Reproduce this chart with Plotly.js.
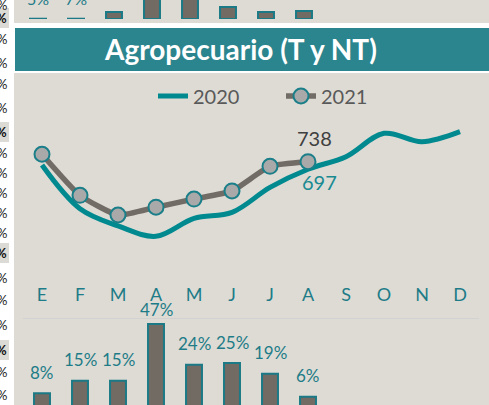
<!DOCTYPE html>
<html><head><meta charset="utf-8">
<script src="https://cdn.plot.ly/plotly-3.0.1.min.js"></script>
<style>html,body{margin:0;padding:0;background:#fff;overflow:hidden}#chart{width:489px;height:405px}</style>
</head><body><div id="chart"></div>
<script>
// ---- data ----
const months = ['E','F','M','A','M','J','J','A','S','O','N','D'];
const val2020 = [720, 484, 391, 335, 432, 464, 599, 697, 765, 891, 846, 900];
const val2021 = [778, 556, 450, 492, 536, 580, 713, 738];
const growth = [8, 15, 15, 47, 24, 25, 19, 6];
const growthLabels = ['8%','15%','15%','47%','24%','25%','19%','6%'];
const topBars = [0.2, 0.2, 5.2, 30, 30, 8.8, 5.2, 5.9];
const topLabels = ['5%','7%'];
const titleText = 'Agropecuario (T y NT)';
const last2020Label = '697';
const last2021Label = '738';

// ---- helpers (layout positions in pixels -> paper) ----
const W = 489, H = 405;
const px = x => x / W;
const py = y => 1 - y / H;
const idx = months.map((m, i) => i);
const idx21 = val2021.map((v, i) => i);
const idxG = growth.map((v, i) => i);
const idxT = topBars.map((v, i) => i);

const TEAL = '#008a90';
const TEAL_TXT = '#1d7c87';
const GRAYLINE = '#716c65';
const PANEL = '#dedbd5';
const FONT = 'Lato, "Open Sans", sans-serif';

const traces = [
  { x: idx, y: val2020, name: '2020', type: 'scatter', mode: 'lines',
    xaxis: 'x', yaxis: 'y',
    line: { color: TEAL, width: 5, shape: 'spline', smoothing: 1 } },
  { x: idx21, y: val2021, name: '2021', type: 'scatter', mode: 'lines+markers',
    xaxis: 'x', yaxis: 'y',
    line: { color: GRAYLINE, width: 5.5, shape: 'spline', smoothing: 0.5 },
    marker: { size: 15, color: '#a9a9a9', line: { color: '#1b7f89', width: 2 } } },
  { x: idxG, y: growth, type: 'bar', xaxis: 'x2', yaxis: 'y2', showlegend: false,
    width: 0.42, marker: { color: '#716b64', line: { color: '#1b7a85', width: 2 } },
    hoverinfo: 'skip' },
  { x: idxT, y: topBars, type: 'bar', xaxis: 'x3', yaxis: 'y3', showlegend: false,
    width: 0.42, marker: { color: '#716b64', line: { color: '#1b7a85', width: 2 } },
    hoverinfo: 'skip' }
];

const annotations = [];
annotations.push({ xref: 'paper', yref: 'paper', x: px(240), y: py(49), text: '<b>' + titleText + '</b>',
  showarrow: false, xanchor: 'center', yanchor: 'middle', font: { family: FONT, size: 28, color: '#ffffff' } });
annotations.push({ xref: 'x', yref: 'y', x: idx21[idx21.length - 1], y: val2021[val2021.length - 1],
  text: last2021Label, showarrow: false, xshift: 6, yshift: 24, font: { family: FONT, size: 20, color: '#404040' } });
annotations.push({ xref: 'x', yref: 'y', x: 7, y: val2020[7],
  text: last2020Label, showarrow: false, xshift: 11, yshift: -13, font: { family: FONT, size: 20, color: '#1a8a91' } });
growth.forEach((g, i) => {
  annotations.push({ xref: 'x2', yref: 'y2', x: i, y: g, text: growthLabels[i], showarrow: false,
    yanchor: 'middle', yshift: g > 40 ? 15 : 21, font: { family: FONT, size: 17, color: TEAL_TXT } });
});
topLabels.forEach((t, i) => {
  annotations.push({ xref: 'x3', yref: 'paper', x: i, y: py(-2), text: t, showarrow: false,
    yanchor: 'middle', font: { family: FONT, size: 16, color: TEAL_TXT } });
});
// cut-off labels of a neighbouring table at the left edge
const leftPlain = [5, 39, 63, 84, 108, 153, 173, 193, 213, 233, 278, 300, 325, 372, 395];
const leftBold = [18, 132, 253, 350];
const shapes = [
  { type: 'rect', xref: 'paper', yref: 'paper', x0: px(14), x1: 1, y0: py(23), y1: 1, fillcolor: PANEL, line: { width: 0 }, layer: 'below' },
  { type: 'rect', xref: 'paper', yref: 'paper', x0: px(15), x1: 1, y0: py(71), y1: py(28), fillcolor: '#2b858e', line: { width: 0 }, layer: 'below' },
  { type: 'rect', xref: 'paper', yref: 'paper', x0: px(14), x1: 1, y0: 0, y1: py(73), fillcolor: PANEL, line: { width: 0 }, layer: 'below' }
];
leftBold.forEach(y => {
  shapes.push({ type: 'rect', xref: 'paper', yref: 'paper', x0: 0, x1: px(9), y0: py(y + 10), y1: py(y - 10),
    fillcolor: '#dcdad5', line: { width: 0 }, layer: 'below' });
  annotations.push({ xref: 'paper', yref: 'paper', x: px(1.5), y: py(y), text: '<b>%</b>', showarrow: false,
    xanchor: 'center', yanchor: 'middle', font: { family: FONT, size: 13, color: '#111' } });
});
leftPlain.forEach(y => {
  annotations.push({ xref: 'paper', yref: 'paper', x: px(1.5), y: py(y), text: '%', showarrow: false,
    xanchor: 'center', yanchor: 'middle', font: { family: FONT, size: 13, color: '#222' } });
});

const layout = {
  width: W, height: H,
  margin: { l: 0, r: 0, t: 0, b: 0, pad: 0, autoexpand: false },
  paper_bgcolor: '#ffffff', plot_bgcolor: 'rgba(0,0,0,0)',
  font: { family: FONT },
  showlegend: true,
  legend: { orientation: 'h', x: px(153), xanchor: 'left', y: py(96), yanchor: 'middle',
    font: { family: FONT, size: 20, color: '#595959' }, bgcolor: 'rgba(0,0,0,0)',
    entrywidth: 83, entrywidthmode: 'pixels' },
  xaxis: { domain: [px(23), px(479)], range: [-0.5, 11.5], anchor: 'y',
    tickmode: 'array', tickvals: idx, ticktext: months, ticks: '',
    tickfont: { family: FONT, size: 18, color: TEAL_TXT },
    showgrid: false, zeroline: false, showline: false, fixedrange: true },
  yaxis: { domain: [py(282), py(110)], range: [88, 1017], visible: false, fixedrange: true },
  xaxis2: { domain: [px(23), px(479)], range: [-0.5, 11.5], anchor: 'y2', visible: false },
  yaxis2: { domain: [0, py(305)], range: [1.4, 57.7], anchor: 'x2', tickvals: [50],
    showticklabels: false, showgrid: true, gridcolor: '#d2d2d2', gridwidth: 1.5, zeroline: false },
  xaxis3: { domain: [px(19), px(475)], range: [-0.5, 11.5], anchor: 'y3', visible: false },
  yaxis3: { domain: [py(19), 1], range: [0, 14], anchor: 'x3', visible: false },
  shapes: shapes,
  annotations: annotations
};

Plotly.newPlot('chart', traces, layout, { displayModeBar: false, staticPlot: true });
</script>
</body></html>
